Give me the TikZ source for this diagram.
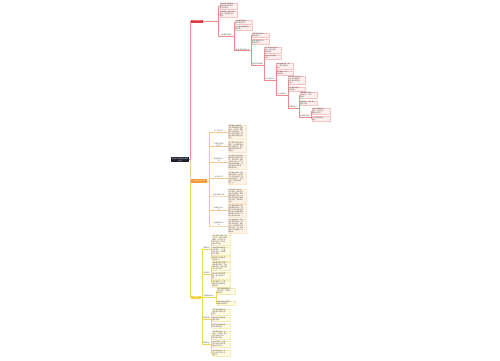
\documentclass[tikz,border=0pt]{standalone}
\usepackage{fontspec}
\newfontfamily\cjk{Noto Sans CJK SC}
\definecolor{rootc}{HTML}{202030}
\definecolor{redc}{HTML}{E0393E}
\definecolor{redl}{HTML}{EC8C8C}
\definecolor{redf}{HTML}{FFF0F0}
\definecolor{redb}{HTML}{F6C2C2}
\definecolor{orc}{HTML}{F29B38}
\definecolor{orl}{HTML}{F5C78E}
\definecolor{orf}{HTML}{FEF3E4}
\definecolor{orb}{HTML}{FBE6CB}
\definecolor{yec}{HTML}{F3D23A}
\definecolor{yel}{HTML}{EBD660}
\definecolor{yef}{HTML}{FFFBE4}
\definecolor{yeb}{HTML}{F4ECB4}
\definecolor{txtc}{HTML}{555555}
\begin{document}
\begin{tikzpicture}[x=1pt,y=-1pt,
  every node/.style={font=\cjk\fontsize{1.6}{2}\selectfont, text=txtc},
  rootbox/.style={fill=rootc, text=white, inner sep=0.7pt, minimum width=18pt, minimum height=5.3pt, align=center},
  brbox/.style={fill=#1, text=white, inner sep=0.8pt, minimum height=3.6pt, anchor=west},
  rleaf/.style={anchor=north west, inner sep=0.5pt, text width=16pt, align=left, draw=redb, fill=redf, line width=0.25pt},
  oleaf/.style={anchor=west, inner sep=0.5pt, text width=16.5pt, align=left, draw=orb, fill=orf, line width=0.25pt},
  yleaf/.style={anchor=north west, inner sep=0.5pt, text width=17pt, align=left, draw=yeb, fill=yef, line width=0.25pt},
  lab/.style={anchor=south west, inner sep=0.3pt, align=center},
  rline/.style={draw=redl, line width=0.6pt},
  oline/.style={draw=orl, line width=0.6pt},
  yline/.style={draw=yel, line width=0.6pt},
]
\useasboundingbox (0,0) rectangle (500,360);
\fill[white] (0,0) rectangle (500,360);

% root and main branches
\node[rootbox] (root) at (180,159.5) {初中作文写作方法技巧\\大全};
\node[brbox=redc, minimum width=12pt] (r0) at (191,21.3) {作文写作技巧};
\node[brbox=orc, minimum width=16pt] (o0) at (191,181) {常见的开头方法};
\node[brbox=yec, minimum width=10pt] (y0) at (191,297.3) {注意事项};

\draw[yline] (root.east) -- ++(1,0) |- (y0.west);
\draw[oline] (root.east) -- ++(1,0) |- (o0.west);
\draw[rline] (root.east) -- ++(1,0) |- (r0.west);

% ---------------- red staircase ----------------
\node[rleaf] (R0a) at (219.5,2.7) {写作前先认真审题，\\弄清题目的要求和\\写作的重点。};
\node[rleaf] (R0b) at (219.5,10.9) {列好提纲，确定文章\\的中心思想和主要\\内容。};
\node[lab, minimum width=14pt] (L1) at (219,36) {立意要新颖深刻};

\node[rleaf] (L1a) at (235,20) {立意要积极向上，\\体现真情实感。};
\node[rleaf] (L1b) at (235,26) {从小事中发掘深刻\\的道理。};
\node[lab, minimum width=16pt] (L2) at (234,50.7) {选材要真实典型生动};

\node[rleaf] (L2a) at (251.7,33) {选择自己熟悉的\\生活材料。};
\node[rleaf] (L2b) at (251.7,39.3) {材料要能够突出\\文章的中心。};
\node[lab, minimum width=12pt] (L3) at (251,65) {结构安排要清晰};

\node[rleaf] (L3a) at (264,46.5) {可以采用总分总的\\结构，层次分明，\\条理清楚。};
\node[rleaf] (L3b) at (264,54.8) {段落之间过渡要\\自然。};
\node[lab, minimum width=11pt] (L4) at (264,80) {语言要生动};

\node[rleaf] (L4a) at (276,62.8) {恰当运用比喻、拟\\人、排比等修辞\\手法。};
\node[rleaf] (L4b) at (276,70.8) {用词准确，句子\\通顺流畅。};
\node[lab, minimum width=11pt] (L5) at (276,95) {开头要精彩};

\node[rleaf] (L5a) at (288,76) {开头可以开门见山，\\也可以设置悬念，\\引起读者的阅读\\兴趣。};
\node[rleaf] (L5b) at (288,86.5) {开头要简洁明了，\\紧扣题目。};
\node[lab, minimum width=10pt] (L6) at (288,108) {结尾要有力};

\node[rleaf] (L6a) at (300,91.7) {结尾要总结全文，\\点明中心，升华\\主题。};
\node[rleaf] (L6b) at (300,100.8) {首尾呼应，使文章\\结构完整。};
\node[lab, minimum width=11pt] (L7) at (299,117) {注重细节描写};

\node[rleaf, text width=17pt] (L7a) at (312,108) {抓住人物的动作、\\语言、神态进行\\细致的描写。};
\node[rleaf, text width=17pt] (L7b) at (312,116.3) {让文章更加真实\\感人。};

\draw[rline] (r0.east) -- ++(15.3,0) |- (R0a.west);
\draw[rline] (r0.east) -- ++(15.3,0) |- (R0b.west);
\draw[rline] (r0.east) -- ++(15.3,0) |- (L1.south west);
\foreach \a/\b in {L1/L2,L2/L3,L3/L4,L4/L5,L5/L6,L6/L7}{
  \draw[rline] (\a.south west) -- (\a.south east);
  \draw[rline] (\a.south east) -- ++(0.5,0) |- (\a a.west);
  \draw[rline] (\a.south east) -- ++(0.5,0) |- (\a b.west);
  \draw[rline] (\a.south east) -- ++(0.5,0) |- (\b.south west);
}
\draw[rline] (L7.south west) -- (L7.south east);
\draw[rline] (L7.south east) -- ++(0.8,0) |- (L7a.west);
\draw[rline] (L7.south east) -- ++(0.8,0) |- (L7b.west);

% ---------------- orange branch ----------------
\node[lab, minimum width=17pt] (O1) at (210,132.3) {开门见山法};
\node[lab, minimum width=17pt] (O2) at (210,146.7) {引用名言警句\\开头法};
\node[lab, minimum width=17pt] (O3) at (210,162.3) {描写环境开头\\法};
\node[lab, minimum width=17pt] (O4) at (210,178.3) {设问开头法};
\node[lab, minimum width=17pt] (O5) at (210,196) {回忆往事开头法};
\node[lab, minimum width=17pt] (O6) at (210,210.7) {抒情议论开头\\法};
\node[lab, minimum width=17pt] (O7) at (210,226) {运用修辞开头\\法};

\node[oleaf] (O1l) at (228,132.3) {开篇直接点明题意，\\交代文章要写的主要\\内容，让读者一看就\\明白文章的中心，这\\种方法简洁明快，能\\够迅速吸引读者的注\\意力。};
\node[oleaf] (O2l) at (228,146.7) {在文章开头引用名言\\警句、古诗词或俗语，\\既能点明主题，又能\\增强文章的文采和\\说服力。};
\node[oleaf] (O3l) at (228,162.3) {在文章开头对自然环\\境或社会环境进行描\\写，渲染气氛，烘托\\人物的心情，为下文\\的展开做好铺垫，使\\文章显得生动形象，\\富有感染力。};
\node[oleaf] (O4l) at (228,178.3) {开头提出问题，引起\\读者的思考，然后在\\下文中逐步回答，使\\文章层层深入，环环\\相扣，增强文章的\\吸引力。};
\node[oleaf] (O5l) at (228,196) {以回忆的方式开头，\\先写现在，再回忆过\\去发生的事情，使文\\章结构富于变化，能\\够表达作者对往事的\\怀念之情，读来亲切\\自然。};
\node[oleaf] (O6l) at (228,210.7) {开头直接抒发自己的\\感情或发表议论，表\\明自己的观点和态度，\\奠定全文的感情基调，\\使读者产生共鸣，这\\种方法感染力强。};
\node[oleaf] (O7l) at (228,226) {开头运用比喻、拟人、\\排比等修辞手法，使\\语言生动形象，富有\\文采，给读者留下深\\刻的印象，让人有继\\续读下去的欲望，效\\果很好。};

\foreach \n in {O1,O2,O3,O4,O5,O6,O7}{
  \draw[oline] (o0.east) -- ++(2,0) |- (\n.south west);
  \draw[oline] (\n.south west) -- (\n.south east) -- (\n l.west);
}

% ---------------- yellow branch ----------------
\node[lab, minimum width=8pt] (G1) at (202,249) {字数要求};
\node[lab, minimum width=8pt] (G2) at (202,274.5) {书写规范};
\node[lab, minimum width=13pt] (G3) at (202,297) {合理安排时间};
\node[lab, minimum width=8pt] (G4) at (202,319) {修改检查};
\node[lab, minimum width=8pt] (G5) at (202,344.2) {积累素材};

\node[yleaf] (G1a) at (212,235) {作文字数一般不少于\\六百字，要注意控制\\篇幅，不能过长也\\不能过短，写作时\\要心中有数。};
\node[yleaf] (G1b) at (212,246.7) {字数不够会影响作\\文的得分，一定要\\写足字数，内容要\\充实具体。};
\node[yleaf] (G1c) at (212,256.3) {字数过多也会显得\\啰嗦冗长。};

\node[yleaf] (G2a) at (212,261.7) {书写要工整、清楚，\\卷面整洁美观，不要\\随意涂改，给老师留\\下良好的印象。};
\node[yleaf] (G2b) at (212,272.2) {标点符号要正确使\\用，每个标点占一\\格。};
\node[yleaf] (G2c) at (212,280.4) {不写错别字，注意\\常用字的正确写法\\和笔顺。};

\node[yleaf] (G3a) at (216.7,288) {考试时要合理分配\\写作时间，先构思\\再动笔。};
\node[yleaf] (G3b) at (216.7,300.5) {留出时间检查修改，\\避免出现错误。};

\node[yleaf] (G4a) at (212,308.5) {写完后要通读全文，\\检查有无错别字和\\病句。};
\node[yleaf] (G4b) at (212,316.6) {检查标点符号是否\\使用正确。};
\node[yleaf] (G4c) at (212,323.5) {检查文章内容是否\\符合题目要求。};

\node[yleaf] (G5a) at (212,330.5) {平时要多读书、多\\观察、多积累，把好\\词好句摘抄下来，\\丰富写作素材。};
\node[yleaf] (G5b) at (212,341) {坚持写日记，记录\\生活中的点点滴滴，\\提高写作能力。};
\node[yleaf] (G5c) at (212,350) {多读优秀范文，学\\习别人的写作方法\\和技巧。};

\foreach \n in {G1,G2,G3,G4,G5}{
  \draw[yline] (y0.east) -- ++(0.7,0) |- (\n.south west);
  \draw[yline] (\n.south west) -- (\n.south east);
}
\foreach \n in {G1,G2,G4,G5}{
  \draw[yline] (\n.south east) -- ++(0.9,0) |- (\n a.west);
  \draw[yline] (\n.south east) -- ++(0.9,0) |- (\n b.west);
  \draw[yline] (\n.south east) -- ++(0.9,0) |- (\n c.west);
}
\draw[yline] (G3.south east) -- ++(0.9,0) |- (G3a.west);
\draw[yline] (G3.south east) -- ++(0.9,0) |- (G3b.west);
\end{tikzpicture}
\end{document}
